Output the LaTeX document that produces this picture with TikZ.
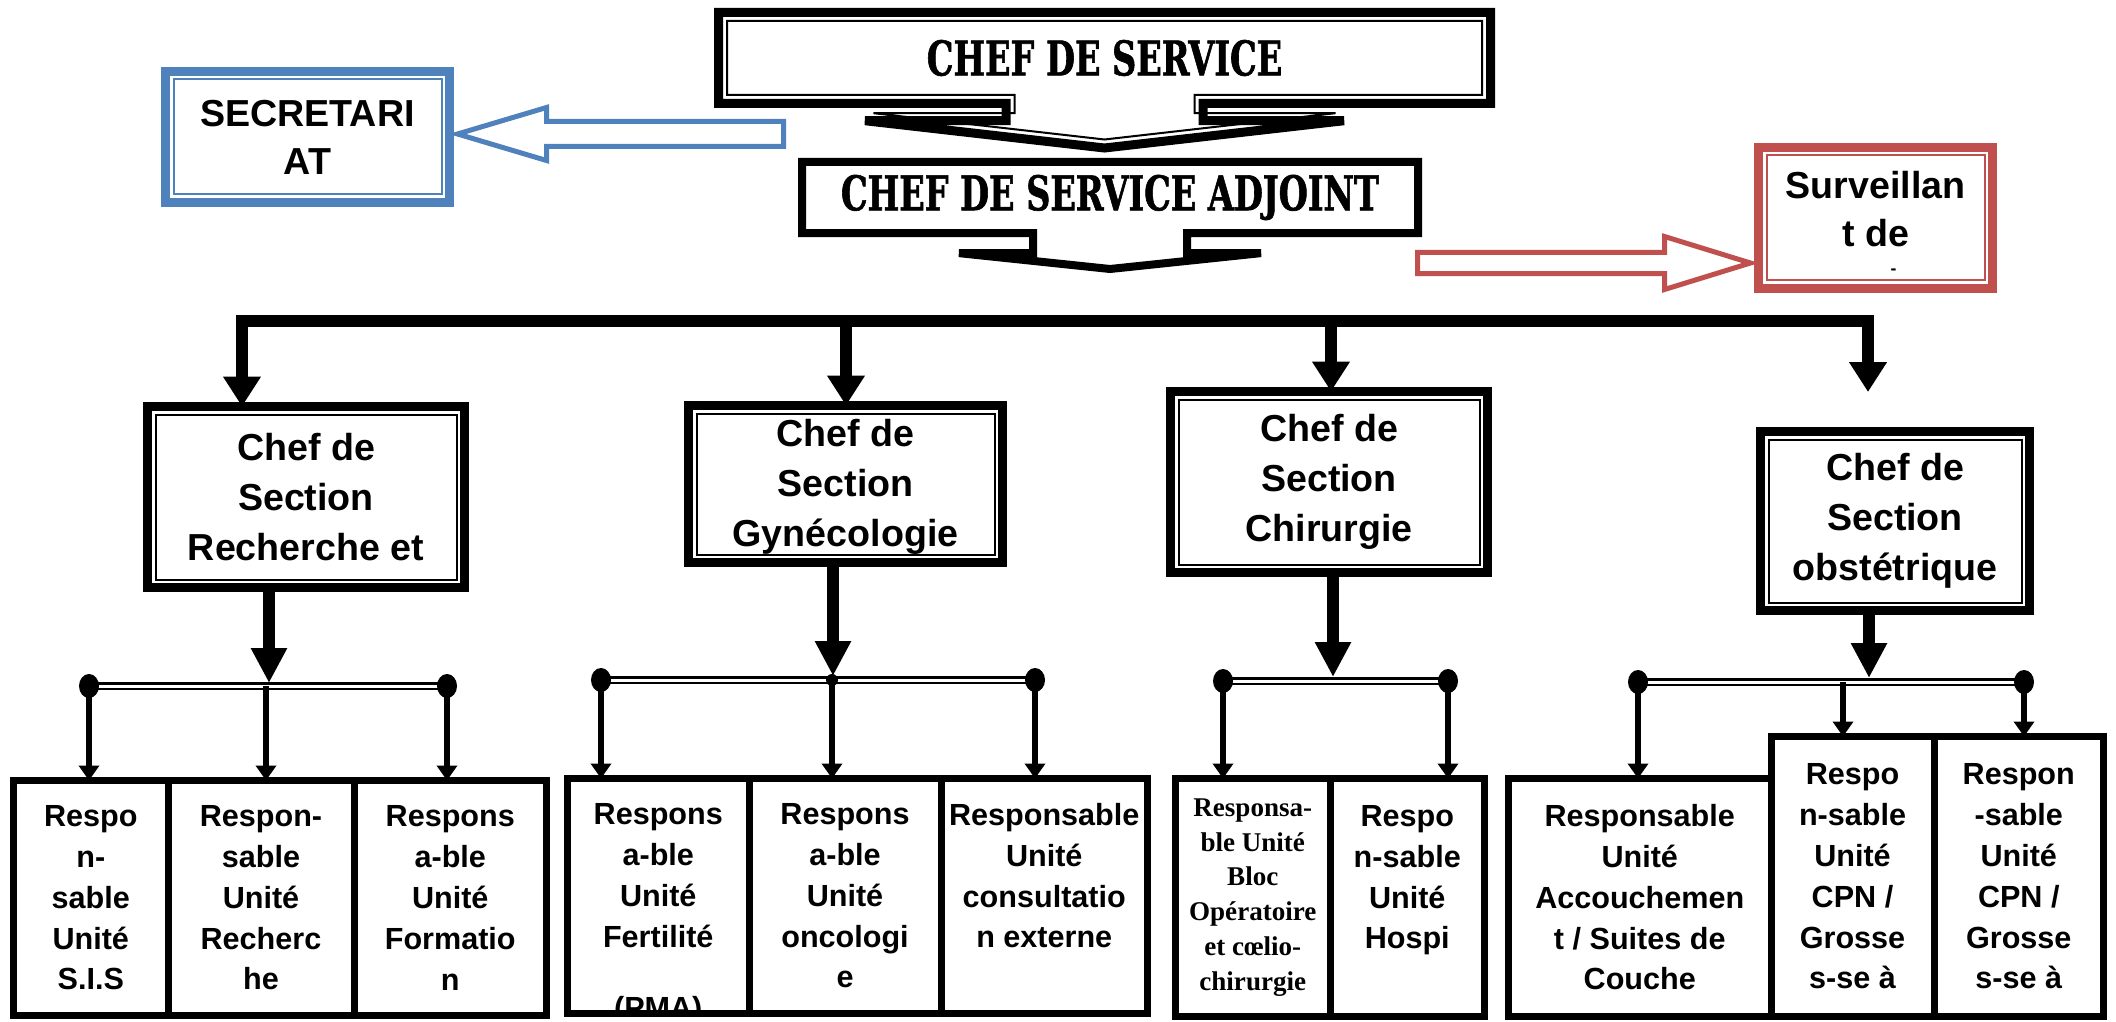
\documentclass[tikz,border=0pt]{standalone}
\usepackage{fontspec}
\setmainfont{Liberation Sans}
\newfontfamily\serifbold{Liberation Serif}
\newfontfamily\titlefont[FakeStretch=0.70,FakeBold=1.2]{DejaVu Serif}
\usetikzlibrary{arrows.meta,shapes.arrows,positioning}
\definecolor{secblue}{HTML}{4F81BD}
\definecolor{survred}{HTML}{C0504D}

\begin{document}
\begin{tikzpicture}[
  framed/.style={draw=#1, line width=0.09cm, outer sep=0pt, inner sep=0pt, align=center,
    font=\bfseries\fontsize{10.7}{14.2}\selectfont,
    append after command={\pgfextra{\draw[#1, line width=0.02cm]
      ([shift={(0.08,0.08)}]\tikzlastnode.south west) rectangle
      ([shift={(-0.08,-0.08)}]\tikzlastnode.north east);}}},
  framed/.default=black,
  chief/.style={arrow box, draw, line width=#1, outer sep=0pt, inner sep=0pt},
  title/.style={font=\titlefont\bfseries\fontsize{13.6}{16}\selectfont},
  unit/.style={draw, line width=0.07cm, outer sep=0pt, inner sep=0pt, anchor=north west,
    align=center, font=\bfseries\fontsize{8.7}{11.6}\selectfont},
  busline/.style={line width=0.12cm},
  busarrow/.style={line width=0.12cm, -{Triangle[length=0.3cm,width=0.36cm]}},
  secarrow/.style={line width=0.125cm, -{Triangle[length=0.35cm,width=0.34cm]}},
  unitarrow/.style={line width=0.065cm, -{Triangle[length=0.15cm,width=0.2cm]}},
  dbar/.style={line width=0.022cm, double=white, double distance=0.03cm},
  blockarrow/.style={draw=#1, fill=white, line width=0.05cm, line join=miter}
]
\useasboundingbox (0,0) rectangle (21.16,-10.22);

\node[chief=0.09cm, minimum width=7.72cm, minimum height=0.91cm,
  arrow box shaft width=1.97cm, arrow box head extend=1.41cm, arrow box tip angle=167,
  arrow box arrows={north:0cm, east:0cm, west:0cm, south:0.445cm}, title] (cs) at (11.045,-0.58) {CHEF DE SERVICE};
\node[chief=0.02cm, minimum width=7.55cm, minimum height=0.74cm,
  arrow box shaft width=1.80cm, arrow box head extend=1.41cm, arrow box tip angle=167,
  arrow box arrows={north:0cm, east:0cm, west:0cm, south:0.445cm}] (csin) at (cs.center) {};
\node[chief=0.08cm, minimum width=6.16cm, minimum height=0.71cm,
  arrow box shaft width=1.54cm, arrow box head extend=0.74cm, arrow box tip angle=168,
  arrow box arrows={north:0cm, east:0cm, west:0cm, south:0.36cm}, title] (adj) at (11.10,-1.975) {CHEF DE SERVICE ADJOINT};

\node[framed=secblue, minimum width=2.84cm, minimum height=1.31cm,
  font=\bfseries\fontsize{10.7}{13.6}\selectfont] (sec) at (3.075,-1.37) {SECRETARI\\AT};
\node[framed=survred, minimum width=2.34cm, minimum height=1.41cm,
  font=\bfseries\fontsize{10.7}{13.6}\selectfont] (surv) at (18.755,-2.18)
  {\rule{0pt}{10.5pt}Surveillan\\t de\\[-5.7pt]{\fontsize{5}{5}\selectfont\hspace*{0.36cm}-}};

\draw[blockarrow=secblue] ([shift={(0.08,0.03)}]sec.east) -- ++(0.89,0.265) -- ++(0,-0.14)
  -- ++(2.37,0) -- ++(0,-0.25) -- ++(-2.37,0) -- ++(0,-0.14) -- cycle;
\draw[blockarrow=survred] ([shift={(-0.08,-0.45)}]surv.west) -- ++(-0.86,0.265) -- ++(0,-0.16)
  -- ++(-2.47,0) -- ++(0,-0.21) -- ++(2.47,0) -- ++(0,-0.16) -- cycle;

\node[framed, minimum width=3.17cm, minimum height=1.81cm] (s1) at (3.06,-4.97) {Chef de\\Section\\Recherche et};
\node[framed, minimum width=3.14cm, minimum height=1.57cm] (s2) at (8.455,-4.84) {\rule{0pt}{0.33cm}Chef de\\Section\\Gynécologie};
\node[framed, minimum width=3.17cm, minimum height=1.81cm] (s3) at (13.29,-4.82) {Chef de\\Section\\Chirurgie};
\node[framed, minimum width=2.69cm, minimum height=1.79cm] (s4) at (18.95,-5.21) {Chef de\\Section\\obstétrique};

\coordinate (b1) at (2.42,-3.21);
\coordinate (b2) at (8.46,-3.21);
\coordinate (b3) at (13.31,-3.21);
\coordinate (b4) at (18.68,-3.21);
\coordinate (t4) at (18.68,-3.92);
\draw[busline] ([xshift=-0.06cm]b1) -- ([xshift=0.06cm]b4);
\draw[busarrow] (b1) -- (b1 |- s1.north);
\draw[busarrow] (b2) -- (b2 |- s2.north);
\draw[busarrow] (b3) -- (b3 |- s3.north);
\draw[busarrow] (b4) -- (t4);

\node[unit, minimum width=1.545cm, minimum height=2.35cm] (u1) at (0.135,-7.805) {Respo\\n-\\sable\\Unité\\S.I.S};
\node[unit, minimum width=1.86cm, minimum height=2.35cm] (u2) at (1.68,-7.805) {Respon-\\sable\\Unité\\Recherc\\he};
\node[unit, minimum width=1.925cm, minimum height=2.35cm] (u3) at (3.54,-7.805) {Respons\\a-ble\\Unité\\Formatio\\n};
\node[unit, minimum width=1.815cm, minimum height=2.35cm] (u4) at (5.675,-7.785) {Respons\\a-ble\\Unité\\Fertilité\\\mbox{}};
\node[unit, minimum width=1.92cm, minimum height=2.35cm] (u5) at (7.49,-7.785) {Respons\\a-ble\\Unité\\oncologi\\e};
\node[unit, minimum width=2.065cm, minimum height=2.35cm] (u6) at (9.41,-7.785) {Responsable\\Unité\\consultatio\\n externe\\\mbox{}};
\node[unit, minimum width=1.545cm, minimum height=2.38cm,
  font=\serifbold\bfseries\fontsize{7.7}{9.9}\selectfont] (u7) at (11.755,-7.785) {Responsa-\\ble Unité\\Bloc\\Opératoire\\et cœlio-\\chirurgie};
\node[unit, minimum width=1.545cm, minimum height=2.38cm] (u8) at (13.30,-7.785) {Respo\\n-sable\\Unité\\Hospi\\\mbox{}};
\node[unit, minimum width=2.625cm, minimum height=2.38cm] (u9) at (15.085,-7.785) {Responsable\\Unité\\Accouchemen\\t / Suites de\\Couche};
\node[unit, minimum width=1.63cm, minimum height=2.80cm] (u10) at (17.71,-7.365) {Respo\\n-sable\\Unité\\CPN /\\Grosse\\s-se à};
\node[unit, minimum width=1.695cm, minimum height=2.80cm] (u11) at (19.34,-7.365) {Respon\\-sable\\Unité\\CPN /\\Grosse\\s-se à};

\begin{scope}
\clip (u4.south west) rectangle (u4.north east);
\node[font=\bfseries\fontsize{8.7}{11.6}\selectfont, anchor=base, inner sep=0pt] (pma) at (6.5825,-10.18) {(PMA)};
\end{scope}

\coordinate (d11) at (0.89,-6.86);
\coordinate (m1) at (2.66,-6.86);
\coordinate (d13) at (4.47,-6.86);
\coordinate (j1) at (2.69,-6.83);
\coordinate (d21) at (6.01,-6.80);
\coordinate (d22) at (8.32,-6.80);
\coordinate (d23) at (10.35,-6.80);
\coordinate (j2) at (8.33,-6.76);
\coordinate (d31) at (12.23,-6.81);
\coordinate (d32) at (14.48,-6.81);
\coordinate (j3) at (13.33,-6.77);
\coordinate (d41) at (16.38,-6.82);
\coordinate (m4) at (18.43,-6.82);
\coordinate (d43) at (20.24,-6.82);
\coordinate (j4) at (18.69,-6.78);

\draw[secarrow] (s1.south -| j1) -- (j1);
\draw[secarrow] (s2.south -| j2) -- (j2);
\draw[secarrow] (s3.south -| j3) -- (j3);
\draw[secarrow] (s4.south -| j4) -- (j4);

\draw[dbar] (d11) -- (d13);
\draw[dbar] (d21) -- (d23);
\draw[dbar] (d31) -- (d32);
\draw[dbar] (d41) -- (d43);

\draw[unitarrow] (d11) -- (d11 |- u1.north);
\draw[unitarrow] (m1) -- (m1 |- u2.north);
\draw[unitarrow] (d13) -- (d13 |- u3.north);
\draw[unitarrow] (d21) -- (d21 |- u4.north);
\draw[unitarrow] (d22) -- (d22 |- u5.north);
\draw[unitarrow] (d23) -- (d23 |- u6.north);
\draw[unitarrow] (d31) -- (d31 |- u7.north);
\draw[unitarrow] (d32) -- (d32 |- u8.north);
\draw[unitarrow] (d41) -- (d41 |- u9.north);
\draw[unitarrow] (m4) -- (m4 |- u10.north);
\draw[unitarrow] (d43) -- (d43 |- u11.north);

\fill (d11) ellipse [x radius=0.1, y radius=0.12];
\fill (d13) ellipse [x radius=0.1, y radius=0.12];
\fill (d21) ellipse [x radius=0.1, y radius=0.12];
\fill (d22) circle (0.06);
\fill (d23) ellipse [x radius=0.1, y radius=0.12];
\fill (d31) ellipse [x radius=0.1, y radius=0.12];
\fill (d32) ellipse [x radius=0.1, y radius=0.12];
\fill (d41) ellipse [x radius=0.1, y radius=0.12];
\fill (d43) ellipse [x radius=0.1, y radius=0.12];
\end{tikzpicture}
\end{document}
